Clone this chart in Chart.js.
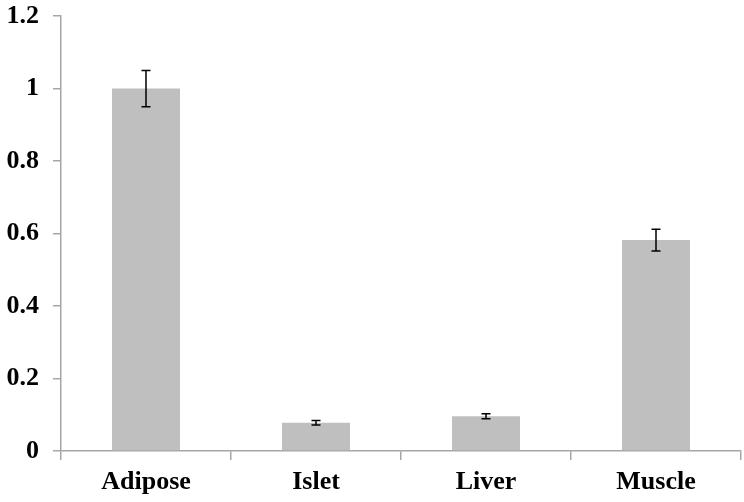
<!DOCTYPE html>
<html>
<head>
<meta charset="utf-8">
<script src="https://cdn.jsdelivr.net/npm/chart.js@4"></script>
<style>
  html, body { margin: 0; padding: 0; background: #fff; }
  #wrap { width: 744px; height: 502px; }
</style>
</head>
<body>
<div id="wrap"><canvas id="chart" width="744" height="502"></canvas></div>
<script>
const tissues = ['Adipose', 'Islet', 'Liver', 'Muscle'];
const expression = [1.0, 0.078, 0.096, 0.582];
const errors = [0.05, 0.006, 0.007, 0.03];
const yTicks = [0, 0.2, 0.4, 0.6, 0.8, 1, 1.2];

const axisGray = '#a6a6a6';
const labelFont = { family: 'Liberation Serif', size: 26, weight: 'bold' };

// draws the error whiskers from the y scale
const errorBars = {
    id: 'errorBars',
    afterDatasetsDraw(chart) {
        const ctx = chart.ctx;
        const meta = chart.getDatasetMeta(0);
        const y = chart.scales.y;
        ctx.save();
        ctx.strokeStyle = '#000';
        ctx.lineWidth = 1.5;
        meta.data.forEach((bar, i) => {
            const v = expression[i], e = errors[i];
            const top = y.getPixelForValue(v + e);
            const bot = y.getPixelForValue(v - e);
            ctx.beginPath();
            ctx.moveTo(bar.x, top);
            ctx.lineTo(bar.x, bot);
            ctx.moveTo(bar.x - 4.5, top);
            ctx.lineTo(bar.x + 4.5, top);
            ctx.moveTo(bar.x - 4.5, bot);
            ctx.lineTo(bar.x + 4.5, bot);
            ctx.stroke();
        });
        ctx.restore();
    }
};

new Chart(document.getElementById('chart').getContext('2d'), {
    type: 'bar',
    data: {
        labels: tissues,
        datasets: [{
            data: expression,
            backgroundColor: '#bfbfbf',
            borderWidth: 0,
            barPercentage: 0.4,
            categoryPercentage: 1.0
        }]
    },
    options: {
        responsive: false,
        animation: false,
        devicePixelRatio: 1,
        layout: { padding: { top: 16, right: 3, left: 0, bottom: 0 } },
        plugins: {
            legend: { display: false },
            tooltip: { enabled: false }
        },
        scales: {
            x: {
                afterFit: s => { s.height = 51; s.paddingLeft = 0; s.paddingRight = 0; },
                grid: {
                    offset: true,
                    drawOnChartArea: false,
                    tickLength: 9,
                    color: axisGray,
                    lineWidth: 1.5
                },
                border: { color: axisGray, width: 1.5 },
                ticks: { color: '#000', font: labelFont, padding: 7 }
            },
            y: {
                min: 0,
                max: 1.2,
                afterFit: s => { s.width = 61; s.paddingTop = 0; s.paddingBottom = 0; },
                afterBuildTicks: s => { s.ticks = yTicks.map(v => ({ value: v })); },
                grid: {
                    drawOnChartArea: false,
                    tickLength: 8,
                    color: axisGray,
                    lineWidth: 1.5
                },
                border: { color: axisGray, width: 1.5 },
                ticks: {
                    color: '#000',
                    font: labelFont,
                    padding: 14,
                    callback: v => String(Number(v.toFixed(1)))
                }
            }
        }
    },
    plugins: [errorBars]
});
</script>
</body>
</html>
